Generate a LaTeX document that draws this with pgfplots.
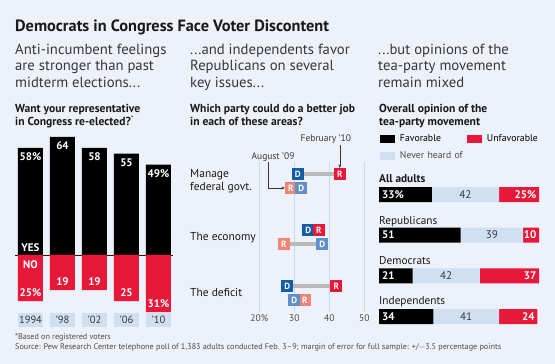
\documentclass[border=0pt]{standalone}
\usepackage{pgfplots}
\pgfplotsset{compat=1.18}
\usepackage{fontspec}
\setmainfont{PT Sans}
\usetikzlibrary{arrows.meta}
\definecolor{bgc}{RGB}{237,241,249}
\definecolor{redc}{RGB}{232,24,58}
\definecolor{lblue}{RGB}{207,224,242}
\definecolor{gridc}{RGB}{200,219,240}
\definecolor{dblue}{RGB}{18,92,168}
\definecolor{lbluem}{RGB}{96,144,204}
\definecolor{salmon}{RGB}{240,132,118}
\definecolor{linegray}{RGB}{185,185,185}
\definecolor{txt}{RGB}{25,25,25}
\definecolor{subt}{RGB}{55,55,55}
\definecolor{foot}{RGB}{75,75,75}
\newcommand{\fs}[1]{\fontsize{#1}{#1}\selectfont}
\begin{document}
\begin{tikzpicture}[x=1pt,y=1pt]
\useasboundingbox (0,0) rectangle (555,364);
\fill[bgc] (0,0) rectangle (555,364);
% ---------- titles ----------
\node[anchor=base west,inner sep=0,text=txt] at (15,332.3) {\fs{16.3}\bfseries Democrats in Congress Face Voter Discontent};
\begin{scope}[every node/.style={anchor=base west,inner sep=0,text=subt,font=\fs{14.7}}]
\node at (15,309.7) {Anti-incumbent feelings};
\node at (15,293) {are stronger than past};
\node at (15,276.3) {midterm elections...};
\node at (190,309.7) {...and independents favor};
\node at (190,293) {Republicans on several};
\node at (190,276.3) {key issues...};
\node at (378,309.7) {...but opinions of the};
\node at (378,293) {tea-party movement};
\node at (378,276.3) {remain mixed};
\end{scope}
\begin{scope}[every node/.style={anchor=base west,inner sep=0,text=txt,font=\fs{11.6}\bfseries}]
\node at (15,251.7) {Want your representative};
\node at (15,238.3) {in Congress re-elected?\textsuperscript{\mdseries\color{foot}*}};
\node at (190,251.7) {Which party could do a better job};
\node at (190,238.3) {in each of these areas?};
\node at (379,251.7) {Overall opinion of the};
\node at (379,238.3) {tea-party movement};
\end{scope}
% ---------- footnotes ----------
\node[anchor=base west,inner sep=0,text=foot,font=\fs{8.2}] at (15,24.7) {*Based on registered voters};
\node[anchor=base west,inner sep=0,text=foot,font=\fs{8.2}] at (15,14) {Source: Pew Research Center telephone poll of 1,383 adults conducted Feb. 3--9; margin of error for full sample: +/$-$3.5 percentage points};

% ---------- panel 1 ----------
\begin{axis}[at={(14.5pt,35.2pt)},anchor=south west,scale only axis,
  width=160pt,height=202.95pt,xmin=-0.5,xmax=4.5,ymin=-40,ymax=70,
  hide axis,ybar,bar width=25pt,bar shift=0pt,clip=false]
\draw[line width=0.8pt,color=txt] (axis cs:-0.484,0) -- (axis cs:4.45,0);
\addplot[fill=black,draw=none] coordinates {(0,58) (1,64) (2,58) (3,55) (4,49)};
\addplot[fill=redc,draw=none] coordinates {(0,-25) (1,-19) (2,-19) (3,-25) (4,-31)};
\begin{scope}[every node/.style={anchor=base,inner sep=0,text=white,font=\fs{11}\bfseries}]
\node[yshift=-12.5pt] at (axis cs:0,58) {58\%};
\node[yshift=-12.5pt] at (axis cs:1,64) {64};
\node[yshift=-12.5pt] at (axis cs:2,58) {58};
\node[yshift=-12.5pt] at (axis cs:3,55) {55};
\node[yshift=-12.5pt] at (axis cs:4,49) {49\%};
\node[yshift=5pt] at (axis cs:0,-25) {25\%};
\node[yshift=5pt] at (axis cs:1,-19) {19};
\node[yshift=5pt] at (axis cs:2,-19) {19};
\node[yshift=5pt] at (axis cs:3,-25) {25};
\node[yshift=5pt] at (axis cs:4,-31) {31\%};
\node[yshift=3.5pt] at (axis cs:0,0) {YES};
\node[yshift=-13.3pt] at (axis cs:0,0) {NO};
\end{scope}
\begin{scope}[every node/.style={fill=lblue,minimum width=25pt,minimum height=14pt,inner sep=0,text=subt,font=\fs{10.5}}]
\node at (axis cs:0,-35) {1994};
\node at (axis cs:1,-35) {’98};
\node at (axis cs:2,-35) {’02};
\node at (axis cs:3,-35) {’06};
\node at (axis cs:4,-35) {’10};
\end{scope}
\end{axis}

% ---------- panel 2 ----------
\begin{scope}[every node/.style={anchor=base west,inner sep=0,text=txt,font=\fs{11.5}}]
\node at (190,186.7) {Manage};
\node at (190,173.3) {federal govt.};
\node at (190,123.3) {The economy};
\node at (190,67.3) {The deficit};
\end{scope}
\begin{axis}[at={(241.8pt,202pt)},anchor=north west,scale only axis,
  width=129.5pt,height=149.5pt,xmin=15,xmax=52,ymin=-0.339,ymax=2.33,y dir=reverse,
  xtick={20,30,40,50},xticklabels={20\%,30,40,50},ytick=\empty,
  xmajorgrids,grid style={line width=1.2pt,color=gridc},
  axis line style={draw=none},major tick length=0pt,
  xticklabel style={font=\fs{9.5},text=foot},clip=false,
  every node near coord/.append style={anchor=center,inner sep=0,text=white,font=\fs{9}\bfseries}]
\addplot[linegray,line width=3.5pt,mark=none] coordinates {(31,-0.125) (43,-0.125)};
\addplot[linegray,line width=3.5pt,mark=none] coordinates {(29,0.125) (32,0.125)};
\addplot[linegray,line width=3.5pt,mark=none] coordinates {(34,0.875) (37,0.875)};
\addplot[linegray,line width=3.5pt,mark=none] coordinates {(27,1.125) (38,1.125)};
\addplot[linegray,line width=3.5pt,mark=none] coordinates {(28,1.875) (42,1.875)};
\addplot[linegray,line width=3.5pt,mark=none] coordinates {(30,2.125) (33,2.125)};
% February '10
\addplot[color=dblue,only marks,mark=square*,mark size=5.5pt,mark options={fill=dblue,draw=dblue,line width=0pt},
  nodes near coords={D}] coordinates {(31,-0.125) (34,0.875) (28,1.875)};
\addplot[color=redc,only marks,mark=square*,mark size=5.5pt,mark options={fill=redc,draw=redc,line width=0pt},
  nodes near coords={R}] coordinates {(43,-0.125) (37,0.875) (42,1.875)};
% August '09
\addplot[color=salmon,only marks,mark=square*,mark size=5.5pt,mark options={fill=salmon,draw=salmon,line width=0pt},
  nodes near coords={R}] coordinates {(29,0.125) (27,1.125) (33,2.125)};
\addplot[color=lbluem,only marks,mark=square*,mark size=5.5pt,mark options={fill=lbluem,draw=lbluem,line width=0pt},
  nodes near coords={D}] coordinates {(32,0.125) (38,1.125) (30,2.125)};
\end{axis}
\node[anchor=base,inner sep=0,text=subt,font=\fs{9.5}] at (325.8,222.3) {February ’10};
\node[anchor=base,inner sep=0,text=subt,font=\fs{9.5}] at (273,204.7) {August ’09};
\draw[subt,line width=0.5pt,-{Stealth[length=3.5pt,width=3pt]}] (339.8,219) -- (339.8,196);
\draw[subt,line width=0.5pt,-{Stealth[length=3.5pt,width=3pt]}] (268,202) -- (268,176) -- (284.8,176);

% ---------- panel 3 ----------
\node[anchor=base west,inner sep=0,text=txt,font=\fs{11.3}\bfseries] at (379,181.3) {All adults};
\begin{scope}[every node/.style={anchor=base west,inner sep=0,text=txt,font=\fs{11.3}}]
\node at (379,139.7) {Republicans};
\node at (379,99) {Democrats};
\node at (379,59) {Independents};
\end{scope}
\begin{axis}[at={(379pt,189.8pt)},anchor=north west,scale only axis,
  width=160pt,height=162.7pt,xmin=0,xmax=100,ymin=-0.5,ymax=3.5,y dir=reverse,
  hide axis,xbar stacked,bar width=15pt,clip=false,
  legend columns=2,transpose legend,
  legend style={at={(0.006,1.244)},anchor=north west,draw=none,fill=none,
    inner sep=0pt,outer sep=0pt,column sep=5pt,row sep=8pt,
    font=\fs{9.8},
    nodes={inner sep=0pt,text height=7pt,text depth=2pt,text width=62pt,anchor=west}},
  ]
\addplot[fill=black,draw=none,legend image code/.code={\fill[black] (0pt,-3.75pt) rectangle (15pt,3.75pt);}] coordinates {(33,0) (51,1) (21,2) (34,3)};
\addlegendentry{Favorable}
\addplot[fill=lblue,draw=none,legend image code/.code={\fill[lblue] (0pt,-3.75pt) rectangle (15pt,3.75pt);}] coordinates {(42,0) (39,1) (42,2) (41,3)};
\addlegendentry{\makebox[0pt][l]{\textcolor{foot}{Never heard of}}}
\addplot[fill=redc,draw=none,legend image code/.code={\fill[redc] (0pt,-3.75pt) rectangle (15pt,3.75pt);}] coordinates {(25,0) (10,1) (37,2) (24,3)};
\addlegendentry{Unfavorable}
\end{axis}
\begin{axis}[at={(379pt,189.8pt)},anchor=north west,scale only axis,
  width=160pt,height=162.7pt,xmin=0,xmax=100,ymin=-0.5,ymax=3.5,y dir=reverse,
  hide axis,clip=false]
\begin{scope}[every node/.style={inner sep=0,font=\fs{11}\bfseries,text=white,yshift=-3.5pt}]
\node[anchor=base west,xshift=3pt] at (axis cs:0,0) {33\%};
\node[anchor=base west,xshift=3pt] at (axis cs:0,1) {51};
\node[anchor=base west,xshift=3pt] at (axis cs:0,2) {21};
\node[anchor=base west,xshift=3pt] at (axis cs:0,3) {34};
\node[anchor=base east,xshift=-2.5pt] at (axis cs:100,0) {25\%};
\node[anchor=base east,xshift=-2.5pt] at (axis cs:100,1) {10};
\node[anchor=base east,xshift=-2.5pt] at (axis cs:100,2) {37};
\node[anchor=base east,xshift=-2.5pt] at (axis cs:99,3) {24};
\end{scope}
\begin{scope}[every node/.style={inner sep=0,font=\fs{11},text=subt,anchor=base,yshift=-3.5pt}]
\node at (axis cs:54,0) {42};
\node at (axis cs:70.5,1) {39};
\node at (axis cs:42,2) {42};
\node at (axis cs:54.5,3) {41};
\end{scope}
\end{axis}
\end{tikzpicture}
\end{document}
